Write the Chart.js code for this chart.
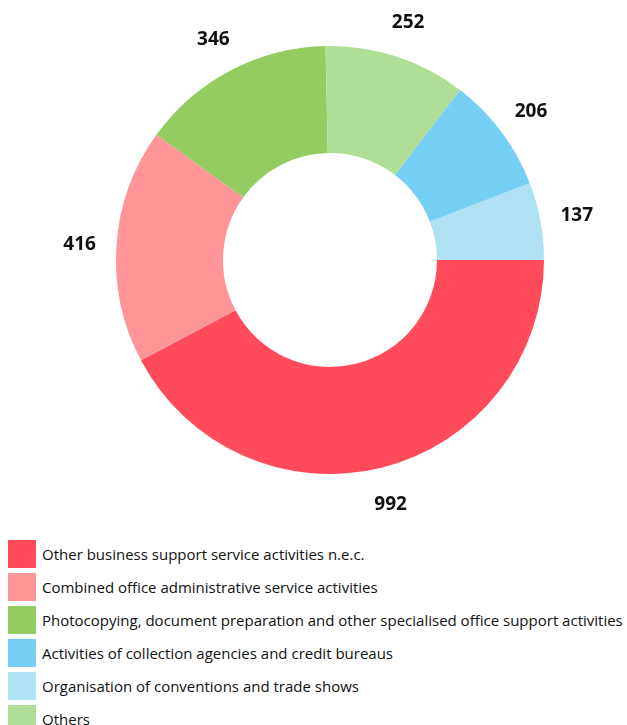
<!DOCTYPE html>
<html>
<head>
<meta charset="utf-8">
<script src="https://cdn.jsdelivr.net/npm/chart.js@4/dist/chart.umd.min.js"></script>
<style>
  html, body { margin: 0; padding: 0; background: #fff; }
  #wrap { position: relative; width: 627px; height: 530px; }
  #legend { margin: 0; padding: 0; list-style: none; position: absolute; left: 0; top: 540px; width: 627px; }
  #legend li { position: relative; height: 28px; margin-bottom: 5px; }
  #legend .sw { position: absolute; left: 8px; top: 0; width: 28px; height: 28px; }
  #legend .tx { position: absolute; left: 42px; top: 0; line-height: 28px; font-family: "Open Sans", sans-serif; font-size: 15px; color: #111; white-space: nowrap; }
</style>
</head>
<body>
<div id="wrap"><canvas id="c"></canvas></div>
<ul id="legend"></ul>
<script>
// Data in drawing order (clockwise from 3 o'clock)
const categories = [
  "Other business support service activities n.e.c.",
  "Combined office administrative service activities",
  "Photocopying, document preparation and other specialised office support activities",
  "Others",
  "Activities of collection agencies and credit bureaus",
  "Organisation of conventions and trade shows"
];
const values = [992, 416, 346, 252, 206, 137];
const colors = ["#FF4B5A", "#FF9597", "#94CC62", "#B1DE96", "#76D0F5", "#AEE1F2"];
// Legend order (indices into categories)
const legendOrder = [0, 1, 2, 4, 5, 3];

const outsideLabels = {
  id: 'outsideLabels',
  afterDatasetsDraw(chart) {
    const ctx = chart.ctx;
    const meta = chart.getDatasetMeta(0);
    ctx.save();
    ctx.font = 'bold 19px "Open Sans", sans-serif';
    ctx.fillStyle = '#111';
    ctx.textAlign = 'center';
    ctx.textBaseline = 'middle';
    meta.data.forEach((arc, i) => {
      const p = arc.getProps(['x', 'y', 'startAngle', 'endAngle', 'outerRadius'], true);
      const mid = (p.startAngle + p.endAngle) / 2;
      const r = p.outerRadius + 37;
      ctx.fillText(String(chart.data.datasets[0].data[i]), p.x + Math.cos(mid) * r, p.y + Math.sin(mid) * r + 1.5);
    });
    ctx.restore();
  }
};

const canvas = document.getElementById('c');
canvas.width = 627; canvas.height = 530;
canvas.style.width = '627px'; canvas.style.height = '530px';

const chart = new Chart(canvas, {
  type: 'doughnut',
  data: {
    labels: categories,
    datasets: [{
      data: values,
      backgroundColor: colors,
      borderWidth: 0,
      hoverOffset: 0
    }]
  },
  options: {
    responsive: false,
    animation: false,
    rotation: 90,
    cutout: '50%',
    layout: { padding: { left: 116, right: 83, top: 46, bottom: 56 } },
    plugins: { legend: { display: false }, tooltip: { enabled: false } }
  },
  plugins: [outsideLabels]
});

const ul = document.getElementById('legend');
legendOrder.forEach(i => {
  const li = document.createElement('li');
  const sw = document.createElement('span'); sw.className = 'sw'; sw.style.background = colors[i];
  const tx = document.createElement('span'); tx.className = 'tx'; tx.textContent = categories[i];
  li.appendChild(sw); li.appendChild(tx); ul.appendChild(li);
});
</script>
</body>
</html>
